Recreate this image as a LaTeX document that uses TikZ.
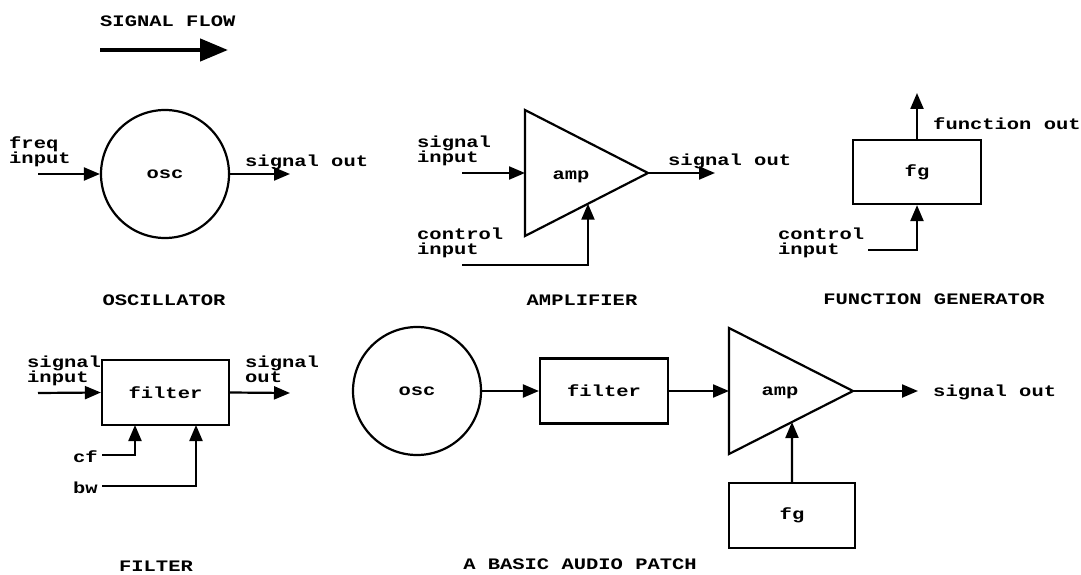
\documentclass[tikz,border=0pt]{standalone}
\usepackage{fontspec}
\newfontfamily\monob{Liberation Mono}[FakeStretch=1.28]
\usetikzlibrary{arrows.meta,calc}
\newcommand\lblfont{\monob\bfseries\fontsize{16}{16}\selectfont}
\tikzset{
  blk/.style={draw, line width=2.2pt, inner sep=0pt, font=\lblfont},
  circblk/.style={blk, circle, minimum size=128pt},
  boxblk/.style={blk, rectangle, minimum width=127pt, minimum height=65pt},
  wire/.style={line width=2.2pt},
  arr/.style={wire, -{Triangle[length=16pt,width=13pt]}},
  bigarr/.style={line width=4.5pt, -{Triangle[length=28pt,width=22pt]}},
  txt/.style={font=\lblfont, inner sep=0pt, anchor=base west},
  captxt/.style={font=\lblfont, inner sep=0pt, anchor=base}
}
\begin{document}
\begin{tikzpicture}[x=1pt,y=-1pt]
\useasboundingbox (0,0) rectangle (1081,575);
\fill[white] (0,0) rectangle (1081,575);

% signal flow
\node[txt] (sftxt) at (100,27) {SIGNAL FLOW};
\coordinate (sf1) at (100,50);
\coordinate (sf2) at (228,50);
\draw[bigarr] (sf1) -- (sf2);

% ---------- oscillator ----------
\node[circblk] (osc1) at (165,174) {osc};
\node[txt] (freq1) at (9,149) {freq};
\node[txt] (freq2) at (9,164) {input};
\coordinate (o1in) at (38,174);
\coordinate (o1out) at (290,174);
\draw[arr] (o1in) -- (osc1.west);
\draw[arr] (osc1.east) -- (o1out);
\node[txt] (o1sig) at (245,166) {signal out};
\node[captxt] (osccap) at (164,305) {OSCILLATOR};

% ---------- amplifier ----------
\coordinate (a1t) at (525,110);
\coordinate (a1b) at (525,236);
\coordinate (a1o) at (648,173);
\draw[wire, line join=miter] (a1t) -- (a1o) -- (a1b) -- cycle;
\node[captxt] (amp1) at (571,179) {amp};
\coordinate (a1mid) at ($(a1t)!0.5!(a1b)$);
\coordinate (a1in) at (462,173);
\draw[arr] (a1in) -- (a1mid);
\coordinate (a1out) at (715,173);
\draw[arr] (a1o) -- (a1out);
\coordinate (ctl1) at ($(a1b)!0.512!(a1o)$);
\coordinate (ctl1in) at (462,265);
\draw[arr] (ctl1in) -| (ctl1);
\node[txt] (a1s1) at (417,147) {signal};
\node[txt] (a1s2) at (417,162) {input};
\node[txt] (a1c1) at (417,239) {control};
\node[txt] (a1c2) at (417,254) {input};
\node[txt] (a1so) at (668,165) {signal out};
\node[captxt] (ampcap) at (582,305) {AMPLIFIER};

% ---------- function generator ----------
\node[boxblk, minimum width=128pt, minimum height=64pt] (fg1) at (917,172) {fg};
\coordinate (fg1out) at (917,93);
\draw[arr] (fg1.north) -- (fg1out);
\coordinate (fg1in) at (868,250);
\draw[arr] (fg1in) -| (fg1.south);
\node[txt] (fgfo) at (933,130) {function out};
\node[txt] (fgc1) at (778,239) {control};
\node[txt] (fgc2) at (778,254) {input};
\node[captxt] (fgcap) at (934,304) {FUNCTION GENERATOR};

% ---------- filter ----------
\node[boxblk] (filt1) at (165.5,392.5) {filter};
\coordinate (f1in) at (38,393);
\coordinate (f1out) at (290,393);
\draw[arr] (f1in) -- (filt1.west);
\draw[arr] (filt1.east) -- (f1out);
\coordinate (cfin) at (102,455);
\coordinate (cft) at (135,425);
\coordinate (bwin) at (102,486);
\coordinate (bwt) at (196,425);
\draw[arr] (cfin) -| (cft);
\draw[arr] (bwin) -| (bwt);
\node[txt] (f1s1) at (27,367) {signal};
\node[txt] (f1s2) at (27,382) {input};
\node[txt] (f1o1) at (245,367) {signal};
\node[txt] (f1o2) at (245,382) {out};
\node[txt] (cf) at (73,462) {cf};
\node[txt] (bw) at (73,493) {bw};
\node[captxt] (filtcap) at (156,571) {FILTER};

% ---------- basic audio patch ----------
\node[circblk] (osc2) at (417,391) {osc};
\node[boxblk, minimum width=128pt] (filt2) at (604,391) {filter};
\coordinate (a2t) at (729,328);
\coordinate (a2b) at (729,454);
\coordinate (a2o) at (853,391);
\draw[wire, line join=miter] (a2t) -- (a2o) -- (a2b) -- cycle;
\node[captxt] (amp2) at (780,395) {amp};
\coordinate (a2mid) at ($(a2t)!0.5!(a2b)$);
\draw[arr] (osc2.east) -- (filt2.west);
\draw[arr] (filt2.east) -- (a2mid);
\coordinate (a2out) at (918,391);
\draw[arr] (a2o) -- (a2out);
\node[boxblk, minimum width=126pt] (fg2) at (792,515.5) {fg};
\coordinate (ctl2) at ($(a2b)!0.508!(a2o)$);
\draw[arr] (fg2.north) -- (ctl2);
\node[txt] (pso) at (933,396) {signal out};
\node[captxt] (patchcap) at (580,569) {A BASIC AUDIO PATCH};
\end{tikzpicture}
\end{document}
